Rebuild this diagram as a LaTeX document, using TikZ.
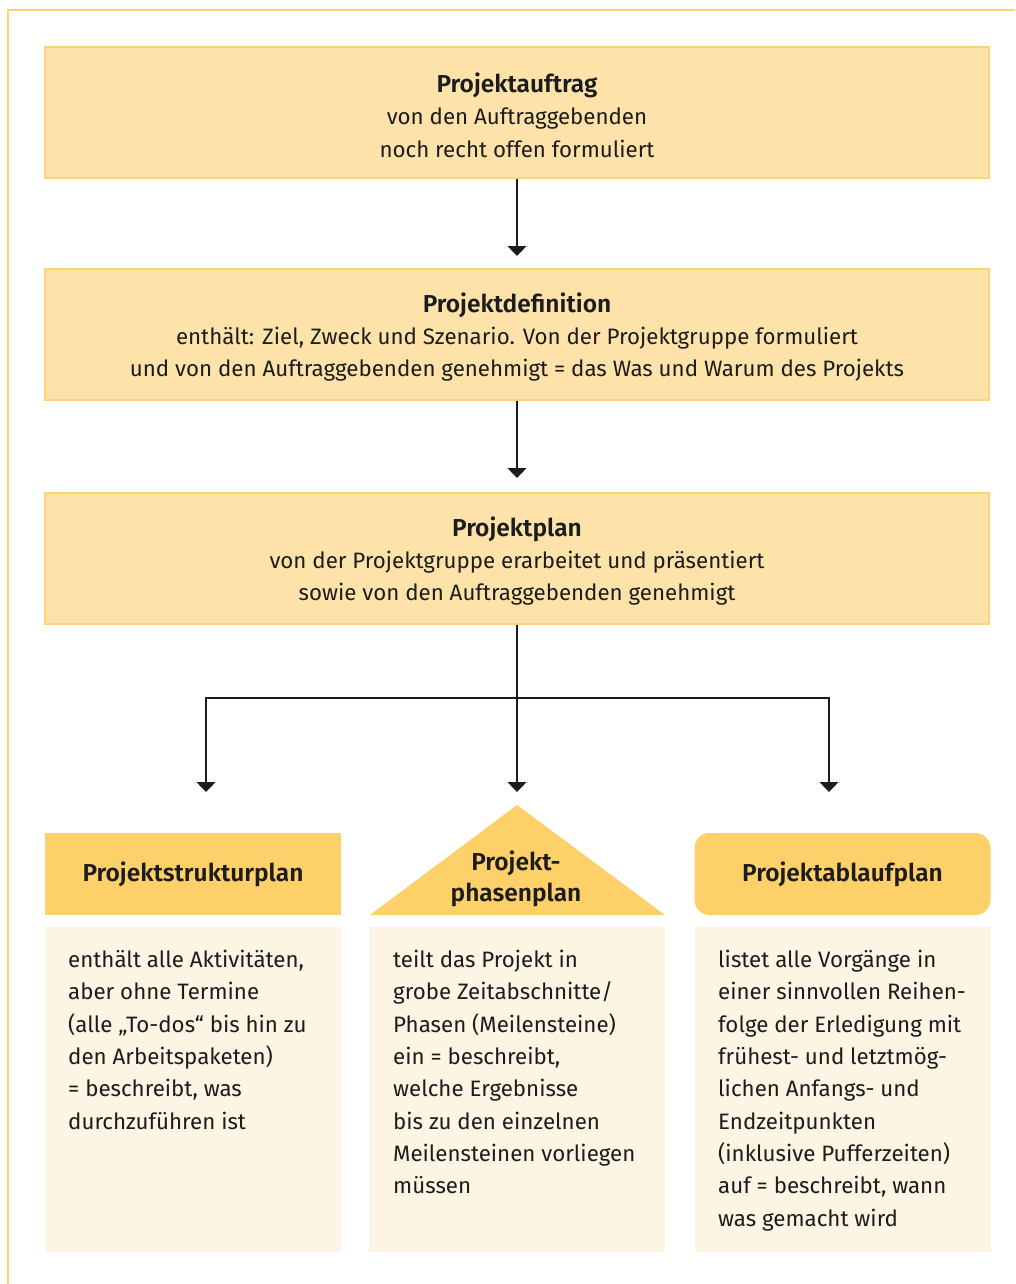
\documentclass[tikz,border=0pt]{standalone}
\usepackage{fontspec}
\setmainfont{Fira Sans}[BoldFont={Fira Sans SemiBold}]
\usetikzlibrary{arrows.meta}
\definecolor{frameline}{HTML}{FFD46E}
\definecolor{boxfill}{HTML}{FDE3AA}
\definecolor{boxedge}{HTML}{FDD27A}
\definecolor{headfill}{HTML}{FED06A}
\definecolor{descfill}{HTML}{FDF5E4}
\definecolor{ink}{HTML}{1C1C1C}
\newcommand{\bodyfont}{\fontsize{22.3}{32.4}\selectfont}
\newcommand{\titlefont}{\fontsize{24.5}{32.4}\selectfont\bfseries}
\tikzset{
  mainbox/.style={draw=boxedge, line width=1.2pt, fill=boxfill, minimum width=944pt,
    minimum height=131pt, inner sep=0pt},
  maintext/.style={align=center, text=ink, inner sep=0pt, font=\bodyfont},
  headbox/.style={fill=headfill, minimum width=296pt, minimum height=82pt,
    text=ink, inner sep=0pt, font=\fontsize{24.5}{31}\selectfont\bfseries},
  descbox/.style={fill=descfill, minimum width=296pt, minimum height=325pt, inner sep=0pt},
  desctext/.style={anchor=north west, align=left, text=ink, inner sep=0pt,
    font=\fontsize{22.3}{32.3}\selectfont},
  link/.style={draw=ink, line width=1.3pt},
  arr/.style={link, -{Triangle[width=19pt,length=10pt]}}
}
\begin{document}
\begin{tikzpicture}[x=1pt,y=-1pt]
  \useasboundingbox (0,0) rectangle (1015,1284);
  % outer frame line
  \draw[frameline, line width=1.8pt] (8,1284) -- (8,10) -- (1015,10);

  % main stages
  \node[mainbox] (auftrag) at (517,112.5) {};
  \node[maintext] (auftragtext) at (517,115)
    {{\titlefont Projektauftrag}\\
     von den Auftraggebenden\\ noch recht offen formuliert};
  \node[mainbox] (definition) at (517,334.5) {};
  \node[maintext] (definitiontext) at (517,337)
    {{\titlefont Projektdefinition}\\
     enthält: Ziel, Zweck und Szenario. Von der Projektgruppe formuliert\\
     und von den Auftraggebenden genehmigt = das Was und Warum des Projekts};
  \node[mainbox] (plan) at (517,558.5) {};
  \node[maintext] (plantext) at (517,561)
    {{\titlefont Projektplan}\\
     von der Projektgruppe erarbeitet und präsentiert\\
     sowie von den Auftraggebenden genehmigt};

  % connectors between stages
  \coordinate (tipdef) at (517,256);
  \coordinate (tipplan) at (517,478);
  \draw[arr] (auftrag.south) -- (tipdef);
  \draw[arr] (definition.south) -- (tipplan);

  % split into three sub-plans
  \coordinate (split) at (517,698);
  \coordinate (tipl) at (206,792);
  \coordinate (tipm) at (517,792);
  \coordinate (tipr) at (829,792);
  \draw[arr] (plan.south) -- (tipm);
  \draw[arr] (split) -| (tipl);
  \draw[arr] (split) -| (tipr);

  % sub-plan headers
  \node[headbox] (psp) at (193,874) {Projektstrukturplan};
  \fill[headfill] (370,915) -- (517,805) -- (665,915) -- cycle;
  \node[align=center, text=ink, inner sep=0pt, font=\fontsize{24.5}{31.5}\selectfont\bfseries]
    (ppp) at (516,879) {Projekt-\\phasenplan};
  \node[headbox, rounded corners=15pt] (pap) at (842.5,874) {Projektablaufplan};

  % descriptions
  \node[descbox] (dl) at (193,1089.5) {};
  \node[descbox] (dm) at (517,1089.5) {};
  \node[descbox] (dr) at (842.5,1089.5) {};

  \node[desctext] (tl) at (68,950)
    {enthält alle Aktivitäten,\\ aber ohne Termine\\ (alle „To-dos“ bis hin zu\\
     den Arbeitspaketen)\\ = beschreibt, was\\ durchzuführen ist};
  \node[desctext] (tm) at (393,950)
    {teilt das Projekt in\\ grobe Zeitabschnitte/\\ Phasen (Meilensteine)\\
     ein = beschreibt,\\ welche Ergebnisse\\ bis zu den einzelnen\\
     Meilensteinen vorliegen\\ müssen};
  \node[desctext] (tr) at (718,950)
    {listet alle Vorgänge in\\ einer sinnvollen Reihen-\\ folge der Erledigung mit\\
     frühest- und letztmög-\\ lichen Anfangs- und\\ Endzeitpunkten\\
     (inklusive Pufferzeiten)\\ auf = beschreibt, wann\\ was gemacht wird};
\end{tikzpicture}
\end{document}
